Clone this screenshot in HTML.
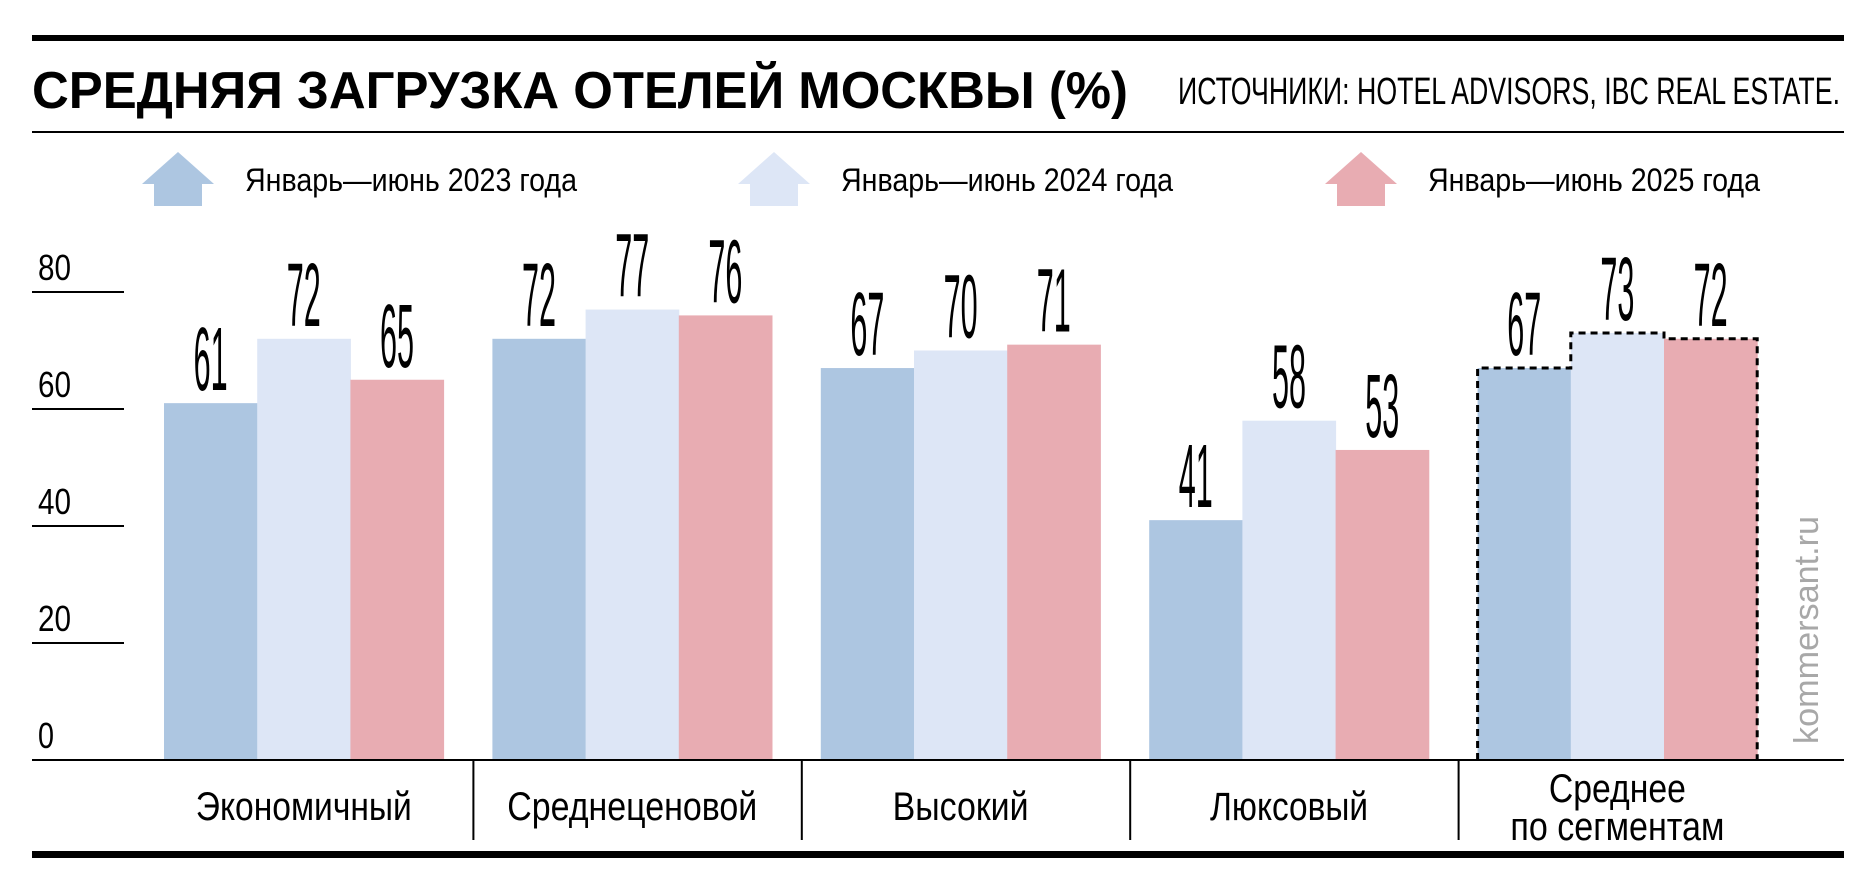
<!DOCTYPE html>
<html><head><meta charset="utf-8"><style>
html,body{margin:0;padding:0;background:#fff;}
svg{display:block;font-family:"Liberation Sans",sans-serif;}
</style></head><body>
<svg id="chart" width="1872" height="894" viewBox="0 0 1872 894" xmlns="http://www.w3.org/2000/svg">
<rect x="32" y="35" width="1812" height="6" fill="#000"/>
<text x="32" y="108" font-size="52" font-weight="bold" textLength="1096" lengthAdjust="spacingAndGlyphs">СРЕДНЯЯ ЗАГРУЗКА ОТЕЛЕЙ МОСКВЫ (%)</text>
<text x="1840" y="104" font-size="38" text-anchor="end" textLength="662" lengthAdjust="spacingAndGlyphs">ИСТОЧНИКИ: HOTEL ADVISORS, IBC REAL ESTATE.</text>
<rect x="32" y="131" width="1812" height="2" fill="#000"/>
<g id="legend"></g>
<g id="axis"></g>
<g id="bars"></g>
<rect x="32" y="759" width="1812" height="2" fill="#000"/>
<g id="cats"></g>
<rect x="32" y="851" width="1812" height="7" fill="#000"/>
<text transform="translate(1818,744) rotate(-90)" font-size="34" fill="#a8a8a8" textLength="228" lengthAdjust="spacingAndGlyphs">kommersant.ru</text>
</svg>
<script>
const categories = [["Экономичный"],["Среднеценовой"],["Высокий"],["Люксовый"],["Среднее","по сегментам"]];
const series2023 = [61,72,67,41,67];
const series2024 = [72,77,70,58,73];
const series2025 = [65,76,71,53,72];
const seriesNames = ["Январь—июнь 2023 года","Январь—июнь 2024 года","Январь—июнь 2025 года"];
const yTicks = [0,20,40,60,80];

const NS="http://www.w3.org/2000/svg";
const colors=["#adc6e1","#dde6f6","#e8acb2"];
const catW=[216,250,136,158,[137,214]];
function el(tag,attrs,parent){const e=document.createElementNS(NS,tag);for(const k in attrs)e.setAttribute(k,attrs[k]);parent.appendChild(e);return e;}
const y0=760, pxPerUnit=5.85;
function yScale(v){return y0-v*pxPerUnit;}
function groupX(i){return 164+i*328.4;}
const barW=93.2;
const legend=document.getElementById('legend'),axis=document.getElementById('axis'),bars=document.getElementById('bars'),cats=document.getElementById('cats');
const legX=[142,738,1325];
seriesNames.forEach((n,i)=>{
  const x=legX[i];
  const p=el('path',{d:`M${x} 184 L${x+36} 152 L${x+72} 184 L${x+60} 184 L${x+60} 206 L${x+12} 206 L${x+12} 184 Z`,fill:colors[i]},legend);
  
  
  const t=el('text',{x:x+103,y:191,'font-size':32,textLength:332,lengthAdjust:'spacingAndGlyphs'},legend);
  t.textContent=n;
  
  
});
yTicks.forEach(v=>{
  const y=yScale(v);
  if(v>0){const l=el('rect',{x:32,y:y-1,width:92,height:2,fill:'#000'},axis);
  
  }
  const t=el('text',{x:38,y:y-12,'font-size':36,textLength:v>0?33:16,lengthAdjust:'spacingAndGlyphs'},axis);
  t.textContent=v;
  
  
});
const all=[series2023,series2024,series2025];
categories.forEach((c,i)=>{
  const gx=groupX(i);
  all.forEach((s,j)=>{
    const x=gx+j*barW,y=yScale(s[i]);
    const r=el('rect',{x:x,y:y,width:barW+0.5,height:y0-y,fill:colors[j]},bars);
    
    
    const t=el('text',{x:x+barW/2,y:y-13,'font-size':90,'text-anchor':'middle',textLength:34,lengthAdjust:'spacingAndGlyphs'},bars);
    t.textContent=s[i];
    
    
  });
  const cx=gx+1.5*barW;
  if(c.length===1){
    const t=el('text',{x:cx,y:820,'font-size':40,'text-anchor':'middle',textLength:catW[i],lengthAdjust:'spacingAndGlyphs'},cats);
    t.textContent=c[0];
    
    
  } else {
    c.forEach((line,k)=>{
      const t=el('text',{x:cx,y:802+k*38,'font-size':40,'text-anchor':'middle',textLength:catW[i][k],lengthAdjust:'spacingAndGlyphs'},cats);
      t.textContent=line;
      
      
    });
  }
  if(i>0){const s=el('rect',{x:groupX(i)-20,y:760,width:2,height:80,fill:'#000'},cats);
  
  }
});
const li=categories.length-1,gx=groupX(li);
let d=`M${gx} ${y0}`;
all.forEach((s,j)=>{const y=yScale(s[li]);d+=` L${gx+j*barW} ${y} L${gx+(j+1)*barW} ${y}`;});
d+=` L${gx+3*barW} ${y0}`;
const o=el('path',{d:d,fill:'none',stroke:'#000','stroke-width':3,'stroke-dasharray':'7 5'},bars);


</script>
</body></html>
